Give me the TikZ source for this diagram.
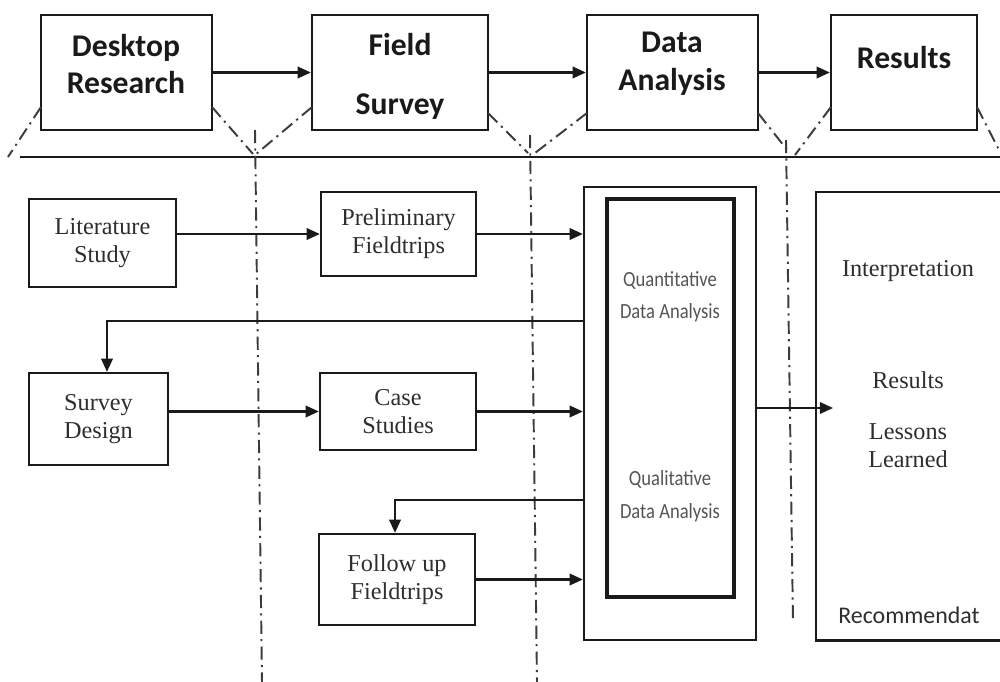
\documentclass[tikz,border=0pt]{standalone}
\usepackage{fontspec}
\setmainfont{Liberation Serif}
\newfontfamily\carlito{Carlito}
\usetikzlibrary{arrows.meta}
\definecolor{ink}{HTML}{1A1A1A}
\definecolor{serifgray}{HTML}{2E2E2E}
\definecolor{lightink}{HTML}{555555}
\newcommand\mybox[7]{\node[#1, minimum width={(#5-#3)*0.02cm}, minimum height={(#6-#4)*0.02cm}] (#2) at ({(#3+#5)/2},{(#4+#6)/2}) {#7};}
\newcommand\squeeze[1]{\scalebox{0.86}[1]{#1}}
\tikzset{
  frame/.style={draw=ink, line width=1.3pt, inner sep=0pt, align=center},
  lowtext/.style={text=serifgray, font=\fontsize{13.8}{16}\selectfont},
  toptext/.style={align=center, font=\carlito\bfseries\fontsize{18}{21.5}\selectfont, text=ink, inner sep=0pt},
  seriflabel/.style={align=center, text=serifgray, font=\fontsize{13.8}{16}\selectfont, inner sep=0pt},
  sanslabel/.style={align=center, text=lightink, font=\carlito\fontsize{12.3}{18.5}\selectfont, inner sep=0pt},
  arr/.style={draw=ink, line width=1.3pt, -{Triangle[length=7.5pt,width=6.5pt]}},
  guide/.style={draw=ink!85, line width=1.1pt, dash pattern=on 7.5pt off 3pt on 1.2pt off 3pt},
  plain/.style={draw=ink, line width=1.3pt}
}
\begin{document}
\begin{tikzpicture}[x=0.02cm, y=-0.02cm]
\useasboundingbox (0,0) rectangle (1000,682);
\fill[white] (0,0) rectangle (1000,682);

% top row
\mybox{frame}{dr}{41}{15}{212}{130}{}
\mybox{frame}{fs}{312}{15}{488}{130}{}
\mybox{frame}{da}{587}{15}{758}{130}{}
\mybox{frame}{rs}{831}{15}{977}{130}{}
\node[toptext] (tdr) at (126,64) {Desktop\\Research};
\node[toptext] (tfs) at (400,76) {Field\\[12pt]Survey};
\node[toptext] (tda) at (672,64) {Data\\Analysis};
\node[toptext] (trs) at (904,58) {Results};
\draw[arr] (dr.east) -- (fs.west);
\draw[arr] (fs.east) -- (da.west);
\draw[arr] (da.east) -- (rs.west);

% separator
\draw[plain] (20,157) -- (1000,157);

% guide lines
\draw[guide] (41,107) -- (8,157);
\draw[guide] (212,107) -- (253,154);
\draw[guide] (312,107) -- (255,155);
\draw[guide] (255,130) -- (262,682);
\draw[guide] (488,113) -- (528,153);
\draw[guide] (587,113) -- (535,153);
\draw[guide] (530,135) -- (537,682);
\draw[guide] (758,113) -- (788,151);
\draw[guide] (831,107) -- (795,155);
\draw[guide] (786,140) -- (793,622);
\draw[guide] (977,107) -- (1000,152);

% lower boxes
\mybox{frame,lowtext}{ls}{29}{199}{176}{287}{Literature\\Study}
\mybox{frame,lowtext}{pf}{321}{192}{476}{276}{Preliminary\\Fieldtrips}
\mybox{frame,lowtext}{sd}{29}{373}{168}{465}{Survey\\Design}
\mybox{frame,lowtext}{cs}{320}{373}{476}{450}{Case\\Studies}
\mybox{frame,lowtext}{fu}{319}{534}{475}{625}{Follow up\\Fieldtrips}

% analysis boxes
\mybox{frame}{outer}{584}{187}{756}{640}{}
\mybox{frame,line width=2pt}{inner}{607}{199}{734}{597}{}
\node[sanslabel] (quant) at (670,297) {\squeeze{Quantitative}\\\squeeze{Data Analysis}};
\node[sanslabel] (qual) at (670,496) {\squeeze{Qualitative}\\\squeeze{Data Analysis}};

% results box (open on the right)
\mybox{inner sep=0pt}{rbox}{816}{192}{1000}{640}{}
\draw[plain] (rbox.north east) -- (rbox.north west) -- (rbox.south west) -- (rbox.south east);
\node[seriflabel] (interp) at (908,271) {Interpretation};
\node[seriflabel] (resl) at (908,380) {Results};
\node[seriflabel] (lessons) at (908,446) {Lessons\\Learned};
\node[sanslabel, text=serifgray, font=\carlito\fontsize{13.6}{16}\selectfont] (recom) at (909,615) {Recommendat};

% connectors
\coordinate (fb1) at (107,321);
\coordinate (fb2) at (395,500);
\coordinate (ra) at (833,408);
\draw[arr] (ls.east |- pf) -- (pf.west);
\draw[arr] (pf.east) -- (pf.east -| outer.west);
\draw[arr] (fb1 -| outer.west) -- (fb1) -- (fb1 |- sd.north);
\draw[arr] (sd.east |- cs) -- (cs.west);
\draw[arr] (cs.east) -- (cs.east -| outer.west);
\draw[arr] (fb2 -| outer.west) -- (fb2) -- (fb2 |- fu.north);
\draw[arr] (fu.east) -- (fu.east -| outer.west);
\draw[arr] (outer.east |- ra) -- (ra);
\end{tikzpicture}
\end{document}
